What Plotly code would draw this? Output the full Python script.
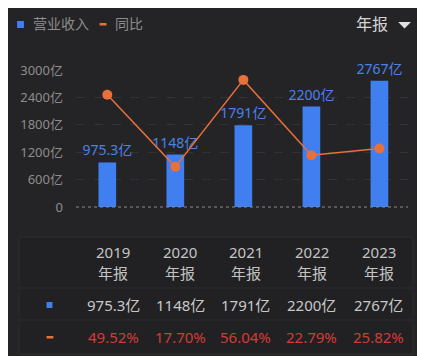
import plotly.graph_objects as go

years = ["2019", "2020", "2021", "2022", "2023"]
period = ["年报", "年报", "年报", "年报", "年报"]
revenue = [975.3, 1148, 1791, 2200, 2767]
revenue_labels = ["975.3亿", "1148亿", "1791亿", "2200亿", "2767亿"]
yoy = [49.52, 17.70, 56.04, 22.79, 25.82]
yoy_labels = ["49.52%", "17.70%", "56.04%", "22.79%", "25.82%"]
y_ticks = [0, 600, 1200, 1800, 2400, 3000]
y_tick_labels = ["0", "600亿", "1200亿", "1800亿", "2400亿", "3000亿"]

OFF = 8  # page body margin offset
W, H = 425 - OFF, 356 - OFF
L, R, T, B = 70 - OFF, 408 - OFF, 70 - OFF, 207 - OFF
BG = "#242426"
BLUE = "#3f7ff0"
ORANGE = "#e8703a"
FONT = "Noto Sans, Noto Sans CJK SC, sans-serif"

def px(x):
    return (x - OFF - L) / (R - L)

def py(y):
    return (B - (y - OFF)) / (B - T)

xs = list(range(len(years)))

fig = go.Figure()
fig.add_trace(go.Bar(
    x=xs, y=revenue, width=0.26, marker=dict(color=BLUE, line=dict(width=0)),
    text=revenue_labels, textposition="outside", cliponaxis=False, constraintext="none",
    textfont=dict(color="#4a82ea", size=14, family=FONT), showlegend=False,
))
fig.add_trace(go.Scatter(
    x=xs, y=yoy, yaxis="y2", mode="lines+markers",
    line=dict(color=ORANGE, width=1.5), marker=dict(color=ORANGE, size=10),
    cliponaxis=False, showlegend=False,
))

shapes = []
annotations = []

shapes.append(dict(type="line", xref="paper", yref="paper", x0=0, x1=1, y0=0, y1=0,
                   line=dict(color="#8a8a8a", width=1.2, dash="dot"), layer="above"))

# legend
shapes.append(dict(type="rect", xref="paper", yref="paper", x0=px(10), x1=px(17),
                   y0=py(28), y1=py(21), fillcolor=BLUE, line=dict(width=0)))
annotations.append(dict(text="营业收入", xref="paper", yref="paper", x=px(24), y=py(24),
                        xanchor="left", yanchor="middle", showarrow=False,
                        font=dict(color="#8c8c8c", size=14, family=FONT)))
shapes.append(dict(type="rect", xref="paper", yref="paper", x0=px(94), x1=px(101),
                   y0=py(25.5), y1=py(23), fillcolor=ORANGE, line=dict(width=0)))
annotations.append(dict(text="同比", xref="paper", yref="paper", x=px(108), y=py(24),
                        xanchor="left", yanchor="middle", showarrow=False,
                        font=dict(color="#8c8c8c", size=14, family=FONT)))
annotations.append(dict(text="年报", xref="paper", yref="paper", x=px(371), y=py(24),
                        xanchor="center", yanchor="middle", showarrow=False,
                        font=dict(color="#d4d4d4", size=16, family=FONT)))
shapes.append(dict(type="path", xref="paper", yref="paper",
                   path=f"M {px(398)},{py(22)} L {px(411)},{py(22)} L {px(404.5)},{py(28.5)} Z",
                   fillcolor="#e0e0e0", line=dict(width=0)))

# table box
shapes.append(dict(type="rect", xref="paper", yref="paper", x0=px(12), x1=px(413),
                   y0=py(354), y1=py(237), fillcolor="#212123",
                   line=dict(color="#2e2e30", width=1), layer="below"))
for ly in (288, 320):
    shapes.append(dict(type="line", xref="paper", yref="paper", x0=px(12), x1=px(413),
                       y0=py(ly), y1=py(ly), line=dict(color="#2c2c2e", width=1)))

col_x = [108, 176, 243, 310, 378]
for i in range(len(years)):
    annotations.append(dict(text=years[i], xref="paper", yref="paper", x=px(col_x[i]), y=py(252),
                            xanchor="center", yanchor="middle", showarrow=False,
                            font=dict(color="#c4c4c4", size=15, family=FONT)))
    annotations.append(dict(text=period[i], xref="paper", yref="paper", x=px(col_x[i]), y=py(273),
                            xanchor="center", yanchor="middle", showarrow=False,
                            font=dict(color="#c4c4c4", size=15, family=FONT)))
    annotations.append(dict(text=revenue_labels[i], xref="paper", yref="paper", x=px(col_x[i]), y=py(305),
                            xanchor="center", yanchor="middle", showarrow=False,
                            font=dict(color="#c8c8c8", size=15, family=FONT)))
    annotations.append(dict(text=yoy_labels[i], xref="paper", yref="paper", x=px(col_x[i]), y=py(337),
                            xanchor="center", yanchor="middle", showarrow=False,
                            font=dict(color="#d23c36", size=15, family=FONT)))

shapes.append(dict(type="rect", xref="paper", yref="paper", x0=px(40), x1=px(46),
                   y0=py(308), y1=py(302), fillcolor=BLUE, line=dict(width=0)))
shapes.append(dict(type="rect", xref="paper", yref="paper", x0=px(40), x1=px(47),
                   y0=py(338.5), y1=py(336), fillcolor=ORANGE, line=dict(width=0)))

fig.update_layout(
    width=W, height=H,
    margin=dict(l=L, r=W - R, t=T, b=H - B, pad=0),
    paper_bgcolor=BG, plot_bgcolor=BG,
    font=dict(family=FONT),
    xaxis=dict(range=[-0.46, 4.42], showticklabels=False, showgrid=False, zeroline=False,
               showline=False, fixedrange=True),
    yaxis=dict(range=[0, 3000], tickvals=y_ticks, ticktext=y_tick_labels,
               tickfont=dict(color="#8c8c8c", size=13, family=FONT),
               ticks="", ticklabelstandoff=12,
               showgrid=True, gridcolor="#333335", griddash="dash", gridwidth=1,
               zeroline=False, showline=False),
    yaxis2=dict(range=[0, 60.4], overlaying="y", side="right", showticklabels=False,
                showgrid=False, zeroline=False, showline=False),
    shapes=shapes, annotations=annotations, showlegend=False,
)

fig.write_html("out.html")
